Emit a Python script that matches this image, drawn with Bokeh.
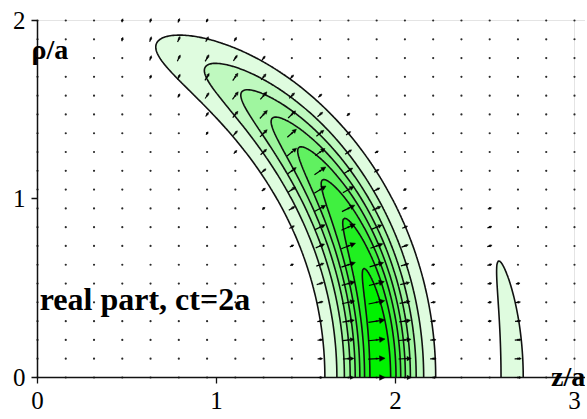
import numpy as np
from bokeh.plotting import figure
from bokeh.models import Range1d, Label, Arrow, NormalHead, ColumnDataSource, FixedTicker, LinearAxis
from bokeh.embed import file_html
from bokeh.resources import INLINE

# ---------------- values ----------------
z_ticks = [0, 1, 2, 3]
rho_ticks = [0, 1, 2]
# contour levels (fraction of the on-axis peak of the real part)
levels = [0.112, 0.225, 0.337, 0.449, 0.562, 0.674, 0.787, 0.899, 1.05]
fill_colors = ["#dffcdf", "#bff9bf", "#9ff69f", "#80f380",
               "#60f160", "#40f040", "#20f020", "#00f200"]
# pulse parameters (units of a)
ridge_radius = 1.915     # radius where the main lobe peaks on the axis
spheroid_k = 1.04        # slight oblateness of the wave front
pulse_width = 0.176      # sech^2 width of the main lobe
lobe2_radius = 2.652     # small forward lobe on the axis
lobe2_width = 0.084
lobe2_peak = 0.183
lobe2_power = 16         # lobe 2 confined near the axis
field_grid_n = 20        # 20 x 20 field-plot arrows
arrow_max = 0.095        # longest arrow, in z/a units
title_text = "real part, ct=2a"


def field(z, r):
    reff = np.sqrt(z ** 2 + (r / spheroid_k) ** 2)
    cos2 = z ** 2 / np.maximum(z ** 2 + r ** 2, 1e-12)
    main = cos2 / np.cosh((reff - ridge_radius) / pulse_width) ** 2
    lobe = lobe2_peak * cos2 ** (lobe2_power / 2) / np.cosh((reff - lobe2_radius) / lobe2_width) ** 2
    return main + lobe


p = figure(width=585, height=417,
           x_range=Range1d(-0.2067, 3.0615), y_range=Range1d(-0.2241, 2.112),
           output_backend="svg", toolbar_location=None,
           x_axis_location=None, y_axis_location=None,
           min_border=0, min_border_left=0, min_border_right=0,
           min_border_top=0, min_border_bottom=0)
p.xgrid.visible = False
p.ygrid.visible = False
p.outline_line_color = None
p.background_fill_color = "white"

# faint frame lines at the top and right of the plotted domain
p.segment(x0=[z_ticks[0], z_ticks[-1]], y0=[rho_ticks[-1], rho_ticks[0]],
          x1=[3.06, z_ticks[-1]], y1=[rho_ticks[-1], rho_ticks[-1]],
          line_color="#e4e4e4", line_width=1)

# filled contours
zs = np.linspace(0, 3, 361)
rs = np.linspace(0, 2, 241)
Z, R = np.meshgrid(zs, rs)
F = field(Z, R)
p.contour(zs, rs, F, levels, fill_color=fill_colors, line_color="#111111", line_width=1.6)

# field plot: dots at all grid points, arrows where the field is strong
gz = np.linspace(0, 3, field_grid_n)
gr = np.linspace(0, 2, field_grid_n)
GZ, GR = np.meshgrid(gz, gr)
Fg = field(GZ, GR)
mag = np.sqrt(np.clip(Fg, 0, None))
nz = GZ
nr = GR / spheroid_k ** 2
nn = np.hypot(nz, nr)
nn[nn == 0] = 1.0
L = arrow_max * mag
dz = nz / nn * L
dr = nr / nn * L
Lpx = L * 179.0
mask = Lpx >= 3.5
src = ColumnDataSource(dict(
    x0=(GZ - dz / 2)[mask], y0=(GR - dr / 2)[mask],
    x1=(GZ + dz / 2)[mask], y1=(GR + dr / 2)[mask],
    hs=np.clip(Lpx[mask] * 0.33, 2.0, 5.5)))
p.scatter(GZ.ravel(), GR.ravel(), size=2.2, color="#2a2a2a", line_width=0)
p.add_layout(Arrow(source=src, x_start="x0", y_start="y0", x_end="x1", y_end="y1",
                   line_color="black", line_width=1.2,
                   end=NormalHead(size="hs", fill_color="black", line_color="black", line_width=0.5)))

# axes through the origin
xax = LinearAxis(fixed_location=0, bounds=(0, 3.06), ticker=FixedTicker(ticks=z_ticks))
yax = LinearAxis(fixed_location=0, bounds=(0, 2), ticker=FixedTicker(ticks=rho_ticks))
for ax in (xax, yax):
    ax.major_tick_in = 0
    ax.major_tick_out = 6
    ax.minor_tick_in = 0
    ax.minor_tick_out = 0
    ax.axis_line_color = "#111111"
    ax.axis_line_width = 1.5
    ax.major_tick_line_color = "#111111"
    ax.major_tick_line_width = 1.3
    ax.major_label_text_font = "Liberation Serif"
    ax.major_label_text_font_size = "25px"
    ax.major_label_text_color = "black"
xax.major_label_standoff = 9
yax.major_label_standoff = 6
p.add_layout(xax, "below")
p.add_layout(yax, "left")

lab_kw = dict(text_font="Liberation Serif", text_font_style="bold",
              text_color="black", text_baseline="alphabetic")
p.add_layout(Label(x=-0.034, y=1.84, text="ρ/a", text_align="left", text_font_size="28px", **lab_kw))
p.add_layout(Label(x=3.06, y=0.004, text="z/a", text_align="right", text_font_size="28px", **lab_kw))
p.add_layout(Label(x=0.6, y=0.44, text=title_text, text_align="center", text_font_size="32px", **lab_kw))

open("out.html", "w").write(file_html(p, INLINE))
